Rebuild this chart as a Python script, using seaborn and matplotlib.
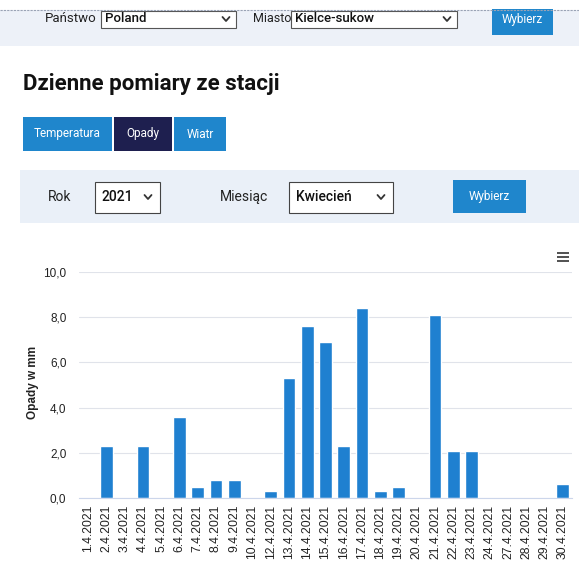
import matplotlib
matplotlib.use('Agg')
import matplotlib.pyplot as plt
from matplotlib.patches import Rectangle
from matplotlib.ticker import FixedLocator
import seaborn as sns
import pandas as pd

# dni z pomiarami (brak 11, 25 i 26 kwietnia)
dni = ['1.4.2021', '2.4.2021', '3.4.2021', '4.4.2021', '5.4.2021', '6.4.2021',
       '7.4.2021', '8.4.2021', '9.4.2021', '10.4.2021', '12.4.2021', '13.4.2021',
       '14.4.2021', '15.4.2021', '16.4.2021', '17.4.2021', '18.4.2021', '19.4.2021',
       '20.4.2021', '21.4.2021', '22.4.2021', '23.4.2021', '24.4.2021', '27.4.2021',
       '28.4.2021', '29.4.2021', '30.4.2021']
opady = [0.0, 2.3, 0.0, 2.3, 0.0, 3.6,
         0.5, 0.8, 0.8, 0.0, 0.3, 5.3,
         7.6, 6.9, 2.3, 8.4, 0.3, 0.5,
         0.0, 8.1, 2.1, 2.1, 0.0, 0.0,
         0.0, 0.0, 0.6]
y_ticks = [0, 2, 4, 6, 8, 10]
y_labels = ['0,0', '2,0', '4,0', '6,0', '8,0', '10,0']

df = pd.DataFrame({'dzien': dni, 'opady': opady})

W, H = 579, 561
sns.set_style('white')
plt.rcParams['font.family'] = ['Roboto', 'DejaVu Sans']

fig = plt.figure(figsize=(W / 100, H / 100), dpi=100)
fig.patch.set_facecolor('white')


def rect(x, y, w, h, **kw):
    # prostokąt w pikselach liczonych od lewego górnego rogu
    fig.patches.append(Rectangle((x / W, 1 - (y + h) / H), w / W, h / H,
                                 transform=fig.transFigure, **kw))


def text(x, y, s, **kw):
    fig.text(x / W, 1 - y / H, s, **kw)


def strzalka(cx, cy):
    # strzałka rozwijanej listy
    xs = [(cx - 3.5) / W, cx / W, (cx + 3.5) / W]
    ys = [1 - (cy - 2) / H, 1 - (cy + 2) / H, 1 - (cy - 2) / H]
    fig.lines.append(plt.Line2D(xs, ys, transform=fig.transFigure, color='#333333', lw=1.3))


niebieski = '#1f86cc'
granat = '#1e1f4f'

# górny pasek z wyborem państwa i miasta
rect(0, 10, W, 36, facecolor='#edf1f8', edgecolor='none')
fig.lines.append(plt.Line2D([0, 1], [1 - 10 / H, 1 - 10 / H], transform=fig.transFigure,
                            color='#9aa3b5', lw=0.8, ls=(0, (2, 1))))
text(45, 19, 'Państwo', fontsize=9.5, va='center', color='#222222')
rect(101, 11, 135, 17, facecolor='white', edgecolor='#555555', lw=0.8)
text(105, 19, 'Poland', fontsize=9.5, va='center', color='#111111', fontweight='medium')
strzalka(226, 19)
text(253, 19, 'Miasto', fontsize=9, va='center', color='#222222')
rect(291, 11, 166, 17, facecolor='white', edgecolor='#555555', lw=0.8)
text(295, 19, 'Kielce-sukow', fontsize=9.5, va='center', color='#111111', fontweight='medium')
strzalka(447, 19)
rect(492, 9, 61, 26, facecolor=niebieski, edgecolor='none')
text(522, 20, 'Wybierz', fontsize=8.5, va='center', ha='center', color='white')

# nagłówek
text(23, 84, 'Dzienne pomiary ze stacji', fontsize=16, fontweight='bold', va='center',
     color='#111111')

# zakładki
rect(23, 117, 89, 34, facecolor=niebieski, edgecolor='none')
text(67, 134, 'Temperatura', fontsize=8.5, va='center', ha='center', color='white')
rect(114, 117, 58, 34, facecolor=granat, edgecolor='none')
text(143, 134, 'Opady', fontsize=8.5, va='center', ha='center', color='white')
rect(174, 117, 52, 34, facecolor=niebieski, edgecolor='none')
text(200, 134, 'Wiatr', fontsize=8.5, va='center', ha='center', color='white')

# pasek wyboru roku i miesiąca
rect(20, 170, W - 20, 53, facecolor='#eaf0f8', edgecolor='none')
text(48, 197, 'Rok', fontsize=10, va='center', color='#222222')
rect(95, 182, 65, 31, facecolor='white', edgecolor='#444444', lw=0.8)
text(101, 197, '2021', fontsize=10, va='center', color='#111111', fontweight='medium')
strzalka(148, 197)
text(220, 197, 'Miesiąc', fontsize=10, va='center', color='#222222')
rect(289, 182, 104, 31, facecolor='white', edgecolor='#444444', lw=0.8)
text(296, 197, 'Kwiecień', fontsize=10, va='center', color='#111111', fontweight='medium')
strzalka(381, 197)
rect(453, 180, 73, 33, facecolor=niebieski, edgecolor='none')
text(489, 197, 'Wybierz', fontsize=8.5, va='center', ha='center', color='white')

# ikona menu wykresu
for yy in (252, 256, 260):
    rect(557, yy, 12, 1.8, facecolor='#555555', edgecolor='none')

# wykres słupkowy
ax = fig.add_axes([79 / W, 1 - 498 / H, (572 - 79) / W, (498 - 272) / H])
sns.barplot(data=df, x='dzien', y='opady', order=dni, color='#1f80d0', saturation=1,
            width=0.7, ax=ax)
ax.set_ylim(0, 10)
ax.set_xlim(-0.5, len(dni) - 0.5)
ax.set_yticks(y_ticks)
ax.set_yticklabels(y_labels, fontsize=8.5, color='#222222', family='Liberation Sans')
ax.set_xticks(range(len(dni)))
ax.set_xticklabels(dni, rotation=90, fontsize=8.7, color='#222222', family='Liberation Sans',
                   va='top', ha='center')
ax.xaxis.set_minor_locator(FixedLocator([i - 0.5 for i in range(len(dni) + 1)]))
ax.tick_params(axis='x', which='major', length=0, pad=5)
ax.tick_params(axis='x', which='minor', length=5, color='#ccd6eb', width=0.8)
ax.tick_params(axis='y', length=0, pad=9)
ax.grid(axis='y', color='#e0e3ea', lw=0.8)
ax.set_axisbelow(True)
for s in ['top', 'right', 'left']:
    ax.spines[s].set_visible(False)
ax.spines['bottom'].set_color('#ccd6eb')
ax.set_xlabel('')
ax.set_ylabel('Opady w mm', fontsize=8.5, fontweight='bold', color='#222222',
              family='Liberation Sans', va='center')
ax.yaxis.set_label_coords(-0.093, 0.51)
ax.set_facecolor('none')

plt.savefig('out.png', dpi=100)
